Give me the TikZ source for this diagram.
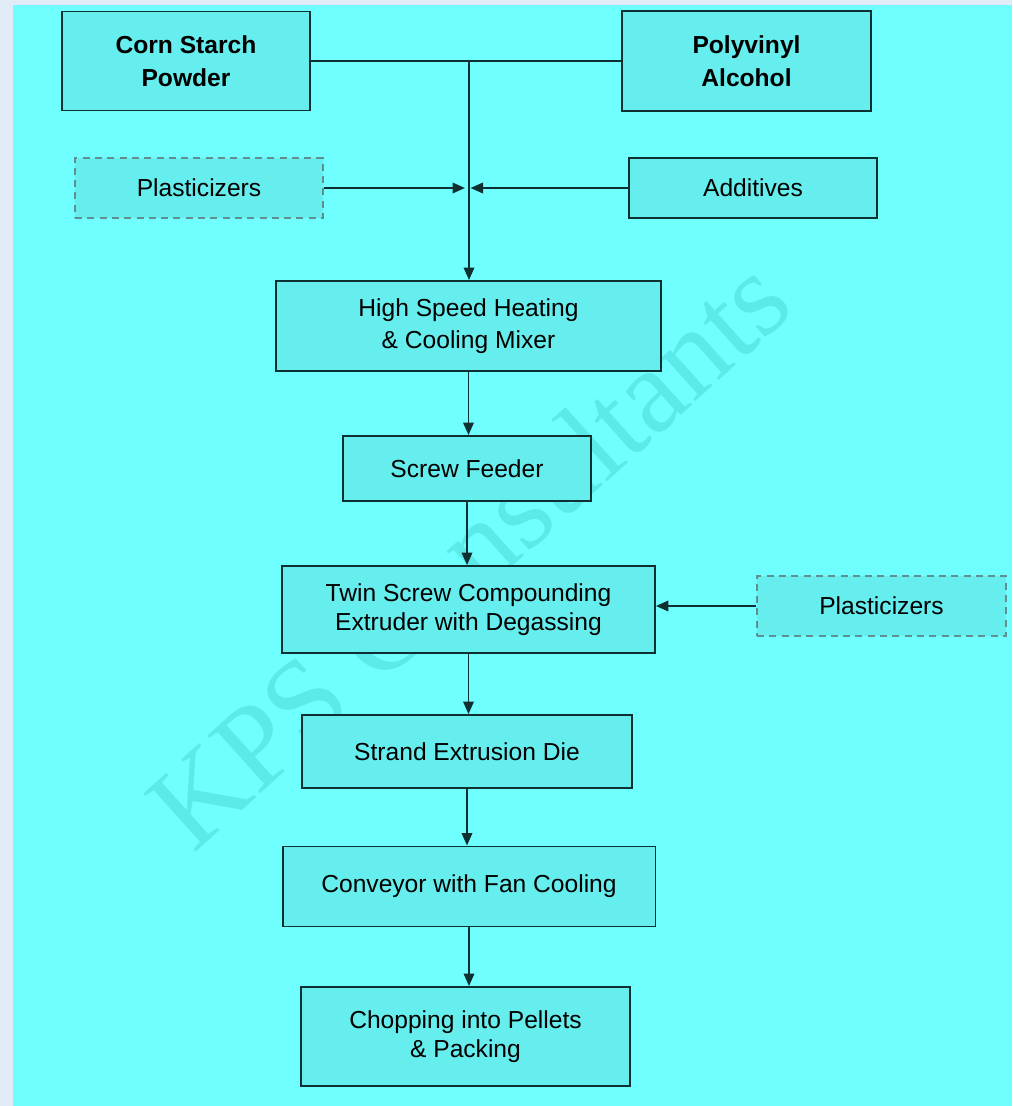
\documentclass[tikz,border=0pt]{standalone}
\usepackage{fontspec}
\setmainfont{Liberation Sans}
\newfontfamily\wmfont{Liberation Serif}
\usetikzlibrary{arrows.meta}

\definecolor{frameblue}{HTML}{E2ECF6}
\definecolor{bgcyan}{HTML}{70FFFF}
\definecolor{boxcyan}{HTML}{66EDED}
\definecolor{edgedark}{HTML}{0E3030}
\definecolor{dashgray}{HTML}{5F8F8F}
\definecolor{wmcyan}{HTML}{5CE9E9}

\tikzset{
  box/.style={draw=edgedark,line width=1.1pt,fill=boxcyan,inner sep=0pt,align=center,
    font=\fontsize{14}{16.5}\selectfont},
  dashbox/.style={box,draw=dashgray,dashed,dash pattern=on 4pt off 3pt},
  arr/.style={draw=edgedark,line width=1.1pt,-{Triangle[length=0.25cm,width=0.21cm]}}
}

\begin{document}
\begin{tikzpicture}[x=0.02cm,y=-0.02cm]
  % fond
  \fill[frameblue] (0,0) rectangle (1012,1106);
  \fill[bgcyan] (13,5) rectangle (1012,1106);
  \useasboundingbox (0,0) rectangle (1012,1106);

  % filigran
  \node[wmcyan,rotate=42,font=\wmfont\fontsize{68}{68}\selectfont] (wm) at (468,552) {KPS Consultants};

  % materii prime
  \node[box,minimum width=4.96cm,minimum height=1.98cm] (corn) at (186,61) {\textbf{Corn Starch}\\[2pt]\textbf{Powder}};
  \node[box,minimum width=4.98cm,minimum height=2cm] (pva) at (746.5,61) {\textbf{Polyvinyl}\\[2pt]\textbf{Alcohol}};
  \node[dashbox,minimum width=4.96cm,minimum height=1.2cm] (plastL) at (199,188) {Plasticizers};
  \node[box,minimum width=4.96cm,minimum height=1.2cm] (addit) at (753,188) {Additives};

  % etape de proces
  \node[box,minimum width=7.7cm,minimum height=1.8cm] (mixer) at (468.5,326) {High Speed Heating\\[2pt]\& Cooling Mixer};
  \node[box,minimum width=4.96cm,minimum height=1.3cm] (feeder) at (467,468.5) {Screw Feeder};
  \node[box,minimum width=7.46cm,minimum height=1.74cm] (twin) at (468.5,609.5) {Twin Screw Compounding\\Extruder with Degassing};
  \node[dashbox,minimum width=4.98cm,minimum height=1.2cm] (plastR) at (881.5,606) {Plasticizers};
  \node[box,minimum width=6.6cm,minimum height=1.46cm] (die) at (467,751.5) {Strand Extrusion Die};
  \node[box,minimum width=7.46cm,minimum height=1.6cm] (conv) at (469,886.5) {Conveyor with Fan Cooling};
  \node[box,minimum width=6.58cm,minimum height=1.98cm] (chop) at (465.5,1036.5) {Chopping into Pellets\\\& Packing};

  % legaturi
  \coordinate (join) at (469,61);
  \draw[edgedark,line width=1.1pt] (corn.east) -- (pva.west);
  \draw[arr] (join) -- (join |- mixer.north);
  \draw[arr] (plastL.east) -- ([xshift=-0.08cm]join |- plastL.east);
  \draw[arr] (addit.west) -- ([xshift=0.03cm]join |- addit.west);
  \draw[arr] (plastR.west) -- (twin.east |- plastR.west);

  \foreach \a/\b in {mixer/feeder,feeder/twin,twin/die,die/conv,conv/chop}
    \draw[arr] (\a.south) -- (\a.south |- \b.north);
\end{tikzpicture}
\end{document}
